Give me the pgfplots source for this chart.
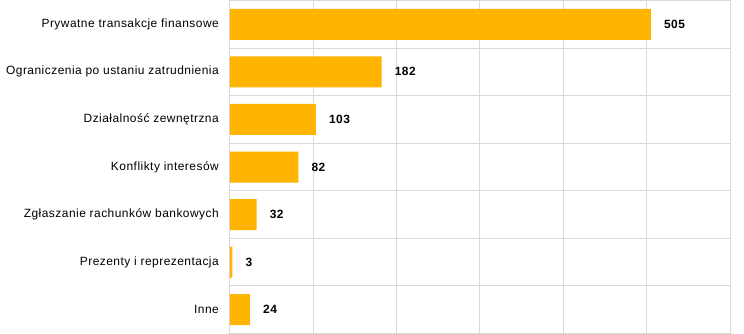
\documentclass[border=0pt]{standalone}
\usepackage{pgfplots}
\pgfplotsset{compat=1.18}
\usepackage{fontspec}
\setmainfont{Liberation Sans}[LetterSpace=4]
\definecolor{barfill}{HTML}{FFB400}
\definecolor{gridc}{HTML}{D9D9D9}
\begin{document}
\begin{tikzpicture}[x=1bp,y=1bp]
\begin{axis}[
  at={(0,0)}, anchor=south west,
  scale only axis,
  width=500bp, height=333bp,
  xbar, bar width=31bp,
  xmin=0, xmax=600,
  ymin=-0.5, ymax=6.5,
  y dir=reverse,
  /pgf/number format/assume math mode=true,
  xtick={0,100,...,600}, xticklabels={},
  xmajorgrids,
  ytick={0,...,6},
  minor ytick={0.5,1.5,...,5.5},
  yminorgrids,
  yticklabels={Prywatne transakcje finansowe,Ograniczenia po ustaniu zatrudnienia,Działalność zewnętrzna,Konflikty interesów,Zgłaszanie rachunków bankowych,Prezenty i reprezentacja,Inne},
  tick style={draw=none},
  major tick length=0pt, minor tick length=0pt,
  grid style={gridc, line width=1bp},
  minor grid style={gridc, line width=1bp},
  axis line style={gridc, line width=1bp},
  font=\fontsize{12}{14}\selectfont,
  yticklabel style={inner sep=0pt, xshift=-11bp},
  nodes near coords,
  nodes near coords align={horizontal},
  every node near coord/.append style={font=\fontsize{12}{14}\selectfont\bfseries, anchor=west, inner sep=0pt, xshift=13bp},
]
\addplot[fill=barfill, draw=none] coordinates {
  (505,0) (182,1) (103,2) (82,3) (32,4) (3,5) (24,6)
};
\end{axis}
\pgfresetboundingbox
\path[use as bounding box] (-230bp,-0.5bp) rectangle (514bp,333.5bp);
\end{tikzpicture}
\end{document}
